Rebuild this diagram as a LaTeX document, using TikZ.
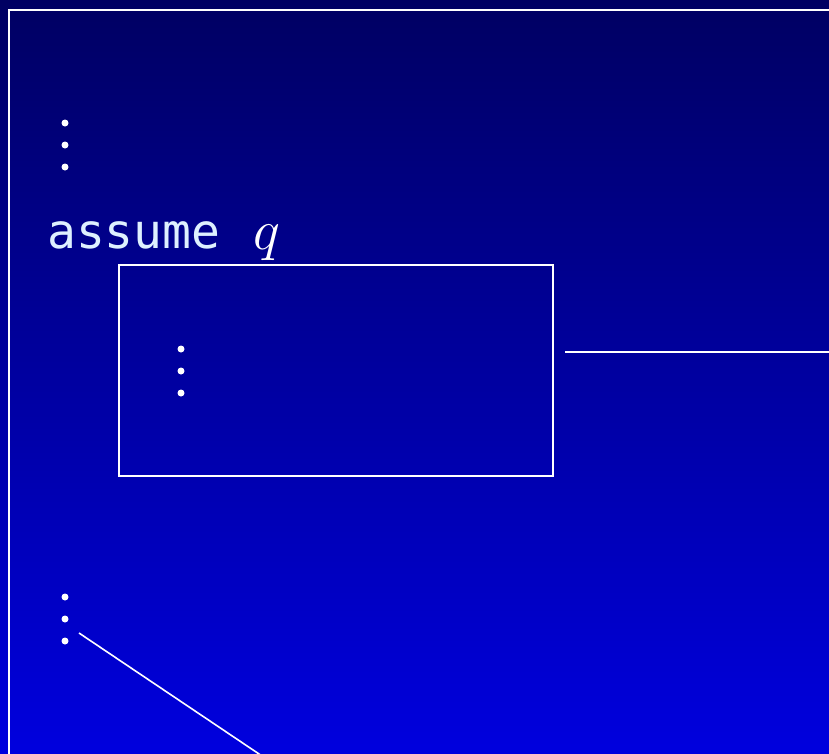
\RequirePackage{fix-cm}
\documentclass[tikz,border=0pt]{standalone}
\usepackage{fontspec}
\newfontfamily\monofont{DejaVu Sans Mono}
\begin{document}
\begin{tikzpicture}[x=1pt,y=-1pt,
  frame/.style={draw=white,line width=1.6pt},
  dot/.style={circle,fill=white,inner sep=0pt,minimum size=7pt},
  lbl/.style={text=labelcol,inner sep=0pt,anchor=base west,font=\monofont\fontsize{48}{50}\selectfont},
  mathlbl/.style={text=white,inner sep=0pt,anchor=base west,font=\fontsize{57}{60}\selectfont}]
\definecolor{topcol}{RGB}{0,0,98}
\definecolor{botcol}{RGB}{0,0,222}
\definecolor{labelcol}{RGB}{222,240,255}
\useasboundingbox (0,0) rectangle (829,753);
\shade[top color=topcol,bottom color=botcol] (0,0) rectangle (829,753);
\begin{scope}
\clip (0,0) rectangle (829,753);
\draw[frame] (9,10) rectangle (850,780);
% top dots
\node[dot] (d1) at (65,123) {};
\node[dot] (d2) at (65,145) {};
\node[dot] (d3) at (65,167) {};
% label
\node[lbl] (assume) at (47,248) {assume};
\node[mathlbl] (q) at (253,249) {\(q\)};
% box
\node[frame,minimum width=434pt,minimum height=211pt,inner sep=0pt] (box) at (336,370.5) {};
\node[dot] (b1) at (181,349) {};
\node[dot] (b2) at (181,371) {};
\node[dot] (b3) at (181,393) {};
\coordinate (h1) at (565,352);
\coordinate (h2) at (840,352);
\draw[frame] (h1) -- (h2);
% bottom dots
\node[dot] (e1) at (65,597) {};
\node[dot] (e2) at (65,619) {};
\node[dot] (e3) at (65,641) {};
\coordinate (l1) at (79,633);
\coordinate (l2) at (268,760);
\draw[frame] (l1) -- (l2);
\end{scope}
\end{tikzpicture}
\end{document}
